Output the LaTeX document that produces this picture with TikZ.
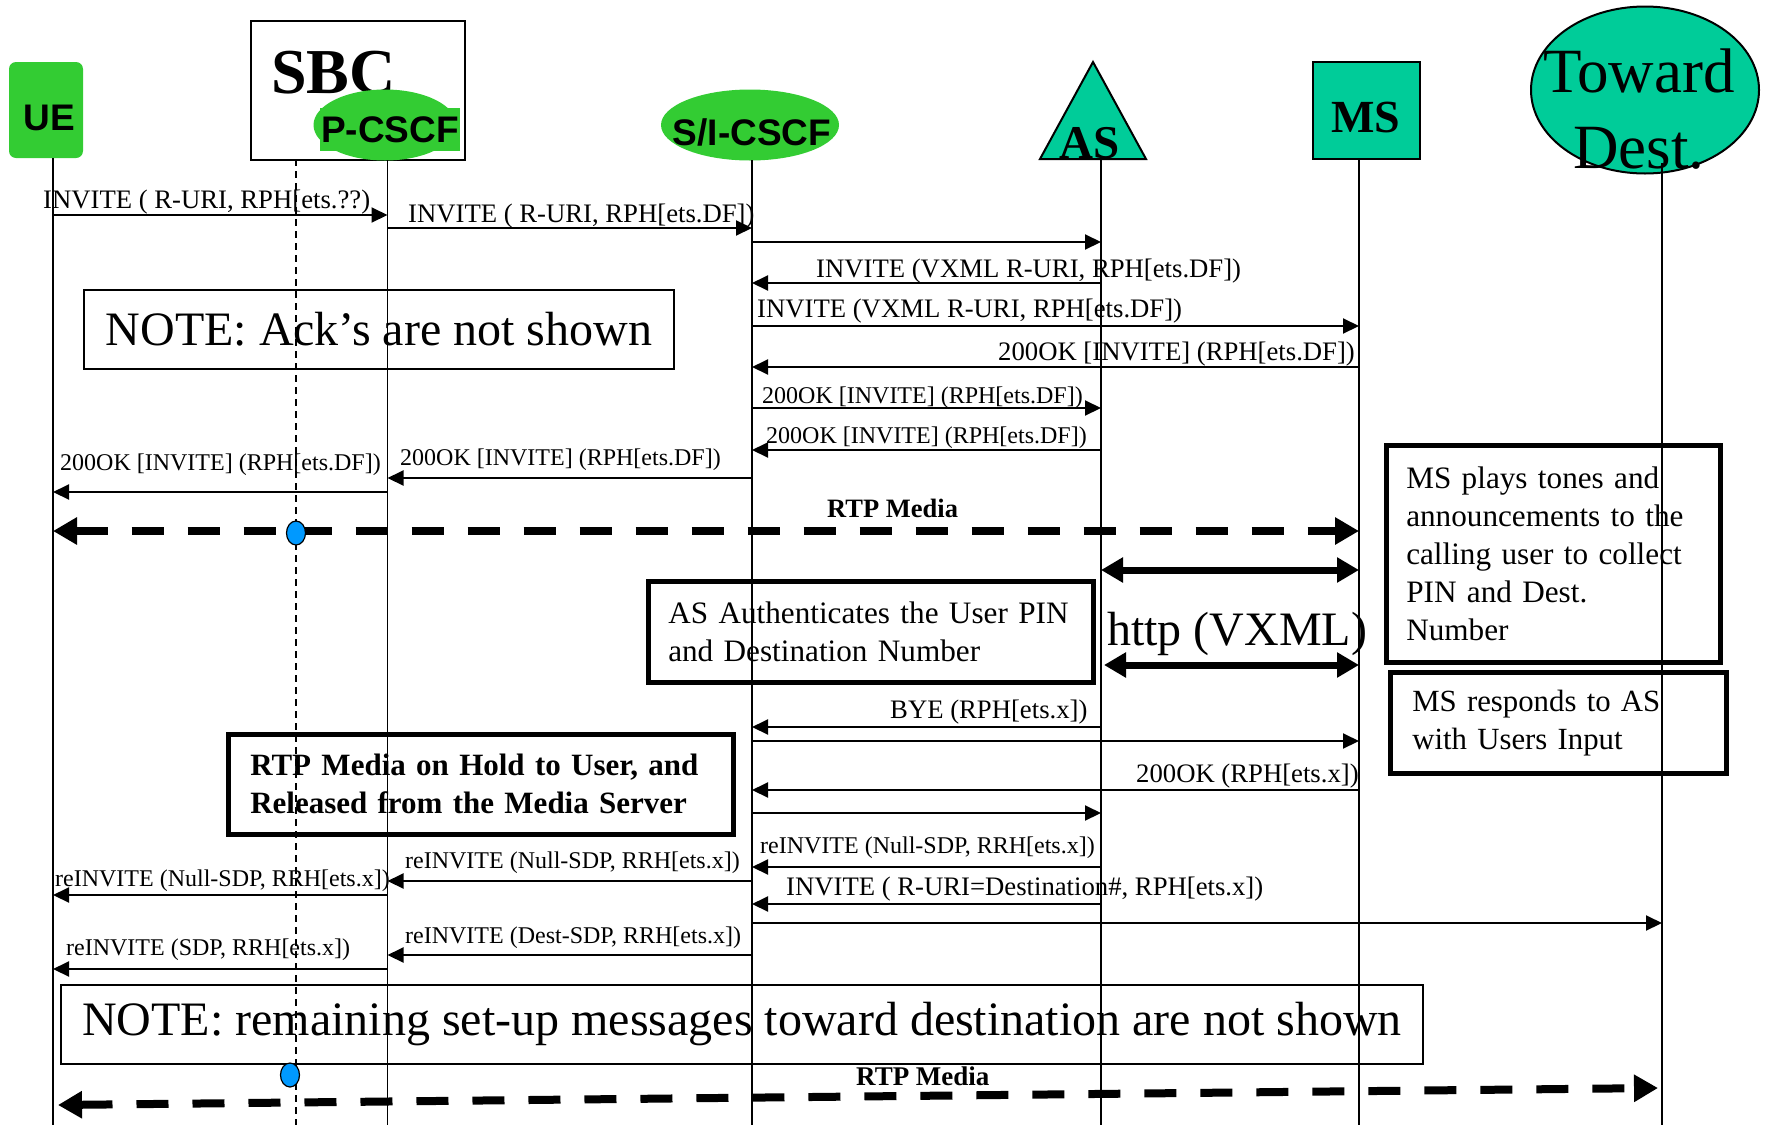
\documentclass[tikz,border=0pt]{standalone}
\usepackage{fontspec}
\setmainfont{Liberation Serif}
\newfontfamily\arialfont{Liberation Sans}
\usetikzlibrary{shapes.geometric}
\usetikzlibrary{arrows.meta}

\definecolor{hdrgreen}{RGB}{51,204,51}
\definecolor{hdrteal}{RGB}{0,204,153}
\definecolor{dotblue}{RGB}{0,153,255}

\begin{document}
\begin{tikzpicture}[x=1pt, y=-1pt,
    life/.style={line width=1.5pt},
    msg/.style={line width=2pt, -{Triangle[length=16pt, width=15pt]}},
    lblbig/.style={inner sep=0pt, anchor=base west, font=\fontsize{26.7}{30}\selectfont},
    lblsmall/.style={inner sep=0pt, anchor=base west, font=\fontsize{24}{28}\selectfont},
    rtp/.style={line width=8pt, dash pattern=on 32pt off 24pt, {Triangle[length=24pt, width=26pt]}-{Triangle[length=24pt, width=26pt]}},
    rtplabel/.style={inner sep=0pt, anchor=base west, font=\bfseries\fontsize{26.5}{30}\selectfont},
    http/.style={line width=7pt, {Triangle[length=22pt, width=24pt]}-{Triangle[length=22pt, width=24pt]}},
    thinbox/.style={draw, line width=2pt, inner sep=0pt, anchor=north west, font=\fontsize{48}{56}\selectfont},
    thickbox/.style={draw, line width=4.5pt, anchor=north west, align=left, inner ysep=0pt, font=\fontsize{31.2}{38}\selectfont},
    hdrsans/.style={inner sep=0pt, anchor=base, font=\arialfont\bfseries\fontsize{37}{40}\selectfont},
    hdrserif/.style={inner sep=0pt, anchor=base, font=\bfseries\fontsize{46}{50}\selectfont},
    bluedot/.style={ellipse, draw, line width=1.2pt, fill=dotblue, minimum width=19pt, minimum height=24pt, inner sep=0pt}
]
\useasboundingbox (0,0) rectangle (1765,1125);

% heads of the lifelines
\node[fill=hdrgreen, rounded corners=7pt, minimum width=74pt, minimum height=96pt, inner sep=0pt] (ue) at (46,110) {};
\node[hdrsans] (ueT) at (49.5,130) {UE};

\node[draw, line width=2pt, minimum width=214pt, minimum height=139pt, inner sep=0pt, anchor=north west] (sbc) at (250,20) {};
\node[inner sep=0pt, anchor=base west, font=\bfseries\fontsize{64}{70}\selectfont] (sbcT) at (271,93) {SBC};
\node[ellipse, fill=hdrgreen, minimum width=143pt, minimum height=71pt, inner sep=0pt] (pcscf) at (385,125) {};
\node[hdrsans, fill=hdrgreen, inner xsep=1pt, inner ysep=8.5pt] (pcscfT) at (390,142) {P-CSCF};

\node[ellipse, fill=hdrgreen, minimum width=178pt, minimum height=71pt, inner sep=0pt] (scscf) at (750,125) {};
\node[hdrsans] (scscfT) at (752,145) {S/I-CSCF};

\draw[line width=2pt, fill=hdrteal] (1093,62) -- (1146,159) -- (1040,159) -- cycle;
\node[hdrserif, font=\bfseries\fontsize{47}{50}\selectfont] (as) at (1090,158) {AS};

\node[draw, line width=2pt, fill=hdrteal, minimum width=107pt, minimum height=97pt, inner sep=0pt] (ms) at (1366.5,110.5) {};
\node[hdrserif] (msT) at (1366,132) {MS};

\node[ellipse, draw, line width=2pt, fill=hdrteal, minimum width=228pt, minimum height=167pt, inner sep=0pt] (dest) at (1645,90) {};

% lifelines
\coordinate (ueL) at (53,158);
\coordinate (sbcL) at (296,159);
\coordinate (pcL) at (387.5,160);
\coordinate (scL) at (752,160);
\coordinate (asL) at (1101,159);
\coordinate (msL) at (1359,159);
\coordinate (dsL) at (1662,163);
\coordinate (bot) at (0,1125);

\draw[life] (ueL) -- (ueL |- bot);
\draw[line width=1.2pt, dash pattern=on 7pt off 5pt] (sbcL) -- (sbcL |- bot);
\draw[life] (pcL) -- (pcL |- bot);
\draw[life] (scL) -- (scL |- bot);
\draw[life] (asL) -- (asL |- bot);
\draw[life] (msL) -- (msL |- bot);
\draw[life] (dsL) -- (dsL |- bot);

\node[inner sep=0pt, anchor=base, font=\fontsize{63}{70}\selectfont] (destT1) at (1639,92) {Toward};
\node[inner sep=0pt, anchor=base, font=\fontsize{63}{70}\selectfont] (destT2) at (1639,168) {Dest.};

% invite towards the media server
\draw[msg] (ueL |- 0,215) -- (pcL |- 0,215);
\node[lblbig] (m1) at (43,208) {INVITE ( R-URI, RPH[ets.??)};
\draw[msg] (pcL |- 0,228) -- (scL |- 0,228);
\node[lblbig] (m2) at (408,222) {INVITE ( R-URI, RPH[ets.DF])};
\draw[msg] (scL |- 0,242) -- (asL |- 0,242);
\draw[msg] (asL |- 0,283) -- (scL |- 0,283);
\node[lblbig] (m3) at (816,277) {INVITE (VXML R-URI, RPH[ets.DF])};
\draw[msg] (scL |- 0,326) -- (msL |- 0,326);
\node[lblbig] (m4) at (757,317) {INVITE (VXML R-URI, RPH[ets.DF])};
\draw[msg] (msL |- 0,367) -- (scL |- 0,367);
\node[lblbig] (m5) at (998,360) {200OK [INVITE] (RPH[ets.DF])};
\draw[msg] (scL |- 0,408) -- (asL |- 0,408);
\node[lblsmall] (m6) at (762,403) {200OK [INVITE] (RPH[ets.DF])};
\draw[msg] (asL |- 0,450) -- (scL |- 0,450);
\node[lblsmall] (m7) at (766,443) {200OK [INVITE] (RPH[ets.DF])};
\draw[msg] (scL |- 0,478) -- (pcL |- 0,478);
\node[lblsmall] (m8) at (400,465) {200OK [INVITE] (RPH[ets.DF])};
\draw[msg] (pcL |- 0,492) -- (ueL |- 0,492);
\node[lblsmall] (m9) at (60,470) {200OK [INVITE] (RPH[ets.DF])};

\node[thinbox, minimum width=590pt, minimum height=79pt] (note1) at (83,289) {NOTE: Ack’s are not shown};

% media to the user
\draw[rtp] (ueL |- 0,531) -- (msL |- 0,531);
\node[rtplabel] (rtpT1) at (827,517) {RTP Media};
\node[bluedot] (dot1) at (296,533) {};

\draw[http] (asL |- 0,570) -- (msL |- 0,570);
\draw[http] ([xshift=3pt]asL |- 0,665) -- (msL |- 0,665);
\node[inner sep=0pt, anchor=base west, font=\fontsize{48}{56}\selectfont] (httpT) at (1107,645) {http (VXML)};

\node[thickbox, text width=294pt, inner xsep=20pt, minimum height=217pt] (msplay) at (1384,443)
  {\mbox{MS plays tones and}\\\mbox{announcements to the}\\\mbox{calling user to collect}\\\mbox{PIN and Dest.}\\Number};
\node[thickbox, text width=292pt, inner xsep=22pt, minimum height=101pt, font=\fontsize{30.8}{38}\selectfont] (msresp) at (1388,670)
  {\mbox{MS responds to AS}\\\mbox{with Users Input}};
\node[thickbox, text width=405pt, inner xsep=20pt, minimum height=101pt] (asauth) at (646,579)
  {\mbox{AS Authenticates the User PIN}\\\mbox{and Destination Number}};
\node[thickbox, text width=461pt, inner xsep=22pt, minimum height=100pt, font=\bfseries\fontsize{31}{38}\selectfont] (hold) at (226,732)
  {\mbox{RTP Media on Hold to User, and}\\\mbox{Released from the Media Server}};

% release of the media server
\draw[msg] (asL |- 0,727) -- (scL |- 0,727);
\node[lblbig] (m10) at (890,718) {BYE (RPH[ets.x])};
\draw[msg] (scL |- 0,741) -- (msL |- 0,741);
\draw[msg] (msL |- 0,790) -- (scL |- 0,790);
\node[lblbig] (m11) at (1136,782) {200OK (RPH[ets.x])};
\draw[msg] (scL |- 0,813) -- (asL |- 0,813);
\draw[msg] (asL |- 0,867) -- (scL |- 0,867);
\node[lblsmall] (m12) at (760,853) {reINVITE (Null-SDP, RRH[ets.x])};
\draw[msg] (asL |- 0,904) -- (scL |- 0,904);
\node[lblbig] (m13) at (786,895) {INVITE ( R-URI=Destination\#, RPH[ets.x])};
\draw[msg] (scL |- 0,923) -- (dsL |- 0,923);
\draw[msg] (scL |- 0,881) -- (pcL |- 0,881);
\node[lblsmall] (m14) at (405,868) {reINVITE (Null-SDP, RRH[ets.x])};
\draw[msg] (pcL |- 0,895) -- (ueL |- 0,895);
\node[lblsmall] (m15) at (55,886) {reINVITE (Null-SDP, RRH[ets.x])};
\draw[msg] (scL |- 0,955) -- (pcL |- 0,955);
\node[lblsmall] (m16) at (405,943) {reINVITE (Dest-SDP, RRH[ets.x])};
\draw[msg] (pcL |- 0,969) -- (ueL |- 0,969);
\node[lblsmall] (m17) at (66,955) {reINVITE (SDP, RRH[ets.x])};

\node[thinbox, minimum width=1362pt, minimum height=79pt] (note2) at (60,984) {NOTE: remaining set-up messages toward destination are not shown};

% media to the destination
\coordinate (rtpA) at (58,1105);
\coordinate (rtpB) at (1658,1088);
\draw[rtp] (rtpA) -- (rtpB);
\node[rtplabel, font=\bfseries\fontsize{27}{30}\selectfont] (rtpT2) at (856,1085) {RTP Media};
\node[bluedot] (dot2) at (290,1075) {};
\end{tikzpicture}
\end{document}
